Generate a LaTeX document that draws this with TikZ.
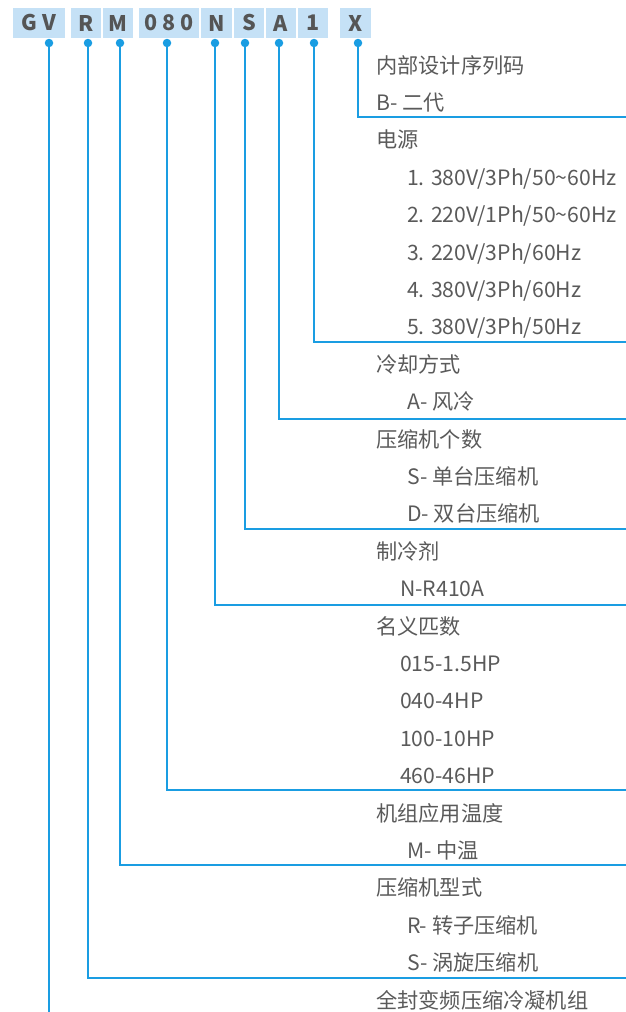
\documentclass[tikz,border=0pt]{standalone}
\usepackage{fontspec}
\setmainfont{Noto Sans CJK SC}
\definecolor{lineblue}{HTML}{1A9DE2}
\definecolor{boxfill}{HTML}{C5E1F6}
\definecolor{txtgray}{HTML}{5A5A5A}
\definecolor{boxtxt}{HTML}{555555}
\begin{document}
\begin{tikzpicture}[x=1pt,y=-1pt,
  codebox/.style={fill=boxfill, minimum height=30pt, inner sep=0pt, text=boxtxt,
    font=\fontsize{21.5}{21.5}\selectfont\bfseries},
  dotnode/.style={circle, fill=lineblue, minimum size=8.5pt, inner sep=0pt},
  conn/.style={draw=lineblue, line width=2pt},
  item/.style={anchor=base west, inner sep=0pt, text=txtgray,
    font=\fontsize{21.2}{21.2}\selectfont}]
\useasboundingbox (0,0) rectangle (626,1012);
% code boxes
\node[codebox, minimum width=52pt] (bGV) at (39,23) {G\hspace{5pt}V};
\node[codebox, minimum width=30pt] (bR) at (86,23) {R};
\node[codebox, minimum width=30pt] (bM) at (118,23) {M};
\node[codebox, minimum width=60pt] (b080) at (169,23) {0\hspace{4.5pt}8\hspace{4.5pt}0};
\node[codebox, minimum width=31pt] (bN) at (216.5,23) {N};
\node[codebox, minimum width=30pt] (bS) at (249,23) {S};
\node[codebox, minimum width=30pt] (bA) at (281,23) {A};
\node[codebox, minimum width=30pt] (b1) at (313,23) {1};
\node[codebox, minimum width=31pt] (bX) at (355.5,23) {X};
% dots
\node[dotnode] (dG) at (49,43) {};
\node[dotnode] (dR) at (88,43) {};
\node[dotnode] (dM) at (120,43) {};
\node[dotnode] (d080) at (167,43) {};
\node[dotnode] (dN) at (215,43) {};
\node[dotnode] (dS) at (245,43) {};
\node[dotnode] (dA) at (279,43) {};
\node[dotnode] (d1) at (314,43) {};
\node[dotnode] (dX) at (358,43) {};
% line ends
\coordinate (eG) at (49,1012);
\coordinate (eR) at (626,978);
\coordinate (eM) at (626,864.5);
\coordinate (e080) at (626,790);
\coordinate (eN) at (626,604.5);
\coordinate (eS) at (626,529);
\coordinate (eA) at (626,418.5);
\coordinate (e1) at (626,342);
\coordinate (eX) at (626,117);
% connectors
\draw[conn] (dG) -- (eG);
\draw[conn] (dR) |- (eR);
\draw[conn] (dM) |- (eM);
\draw[conn] (d080) |- (e080);
\draw[conn] (dN) |- (eN);
\draw[conn] (dS) |- (eS);
\draw[conn] (dA) |- (eA);
\draw[conn] (d1) |- (e1);
\draw[conn] (dX) |- (eX);
% texts
\node[item] (t0) at (376,73) {内部设计序列码};
\node[item] (t1) at (376,110.4) {B- 二代};
\node[item] (t2) at (376,147.8) {电源};
\node[item] (t3) at (407,185.2) {1. 380V/3Ph/50\textasciitilde 60Hz};
\node[item] (t4) at (407,222.6) {2. 220V/1Ph/50\textasciitilde 60Hz};
\node[item] (t5) at (407,260) {3. 220V/3Ph/60Hz};
\node[item] (t6) at (407,297.4) {4. 380V/3Ph/60Hz};
\node[item] (t7) at (407,334.8) {5. 380V/3Ph/50Hz};
\node[item] (t8) at (376,372.2) {冷却方式};
\node[item] (t9) at (407,409.6) {A- 风冷};
\node[item] (t10) at (376,447) {压缩机个数};
\node[item] (t11) at (407,484.4) {S- 单台压缩机};
\node[item] (t12) at (407,521.8) {D- 双台压缩机};
\node[item] (t13) at (376,559.2) {制冷剂};
\node[item] (t14) at (400,596.6) {N-R410A};
\node[item] (t15) at (376,634) {名义匹数};
\node[item] (t16) at (400,671.4) {015-1.5HP};
\node[item] (t17) at (400,708.8) {040-4HP};
\node[item] (t18) at (400,746.2) {100-10HP};
\node[item] (t19) at (400,783.6) {460-46HP};
\node[item] (t20) at (376,821) {机组应用温度};
\node[item] (t21) at (407,858.4) {M- 中温};
\node[item] (t22) at (376,895.8) {压缩机型式};
\node[item] (t23) at (407,933.2) {R- 转子压缩机};
\node[item] (t24) at (407,970.6) {S- 涡旋压缩机};
\node[item] (t25) at (376,1008) {全封变频压缩冷凝机组};
\end{tikzpicture}
\end{document}
